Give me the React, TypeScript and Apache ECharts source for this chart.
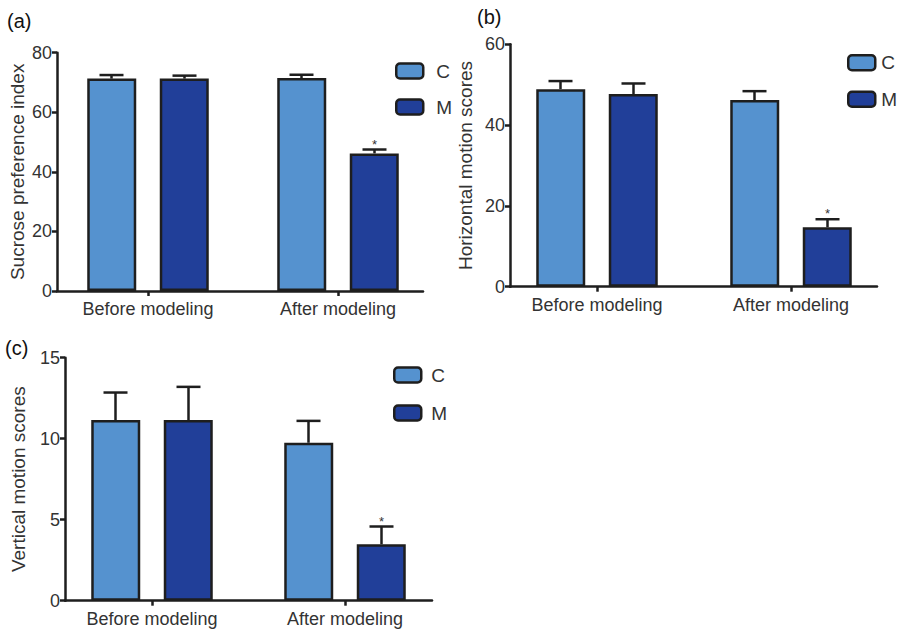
import React, { useEffect, useRef } from "react";
import * as echarts from "echarts";

const categories = ["Before modeling", "After modeling"];
const groups = ["C", "M"];

const sucroseC = [71.3, 71.5];
const sucroseCErr = [1.2, 1.1];
const sucroseM = [71.3, 46.2];
const sucroseMErr = [1.0, 1.3];

const horizC = [48.9, 46.2];
const horizCErr = [2.0, 2.2];
const horizM = [47.7, 14.7];
const horizMErr = [2.6, 2.0];

const vertC = [11.15, 9.75];
const vertCErr = [1.7, 1.35];
const vertM = [11.15, 3.48];
const vertMErr = [2.05, 1.1];

const sigM = ["", "*"];

const yTitles = ["Sucrose preference index", "Horizontal motion scores", "Vertical motion scores"];
const yMax = [80, 60, 15];
const yInterval = [20, 20, 5];
const panelLabels = ["(a)", "(b)", "(c)"];

const COLOR_C = "#5592cf";
const COLOR_M = "#213f99";
const INK = "#1e1e1e";
const TEXT = "#333333";
const FONT = "Liberation Sans, Arial, sans-serif";

export default function App() {
  const ref = useRef<HTMLDivElement>(null);

  useEffect(() => {
    if (!ref.current) return;
    const chart = echarts.init(ref.current, null, { renderer: "svg" });

    const panels = [
      { c: sucroseC, ce: sucroseCErr, m: sucroseM, me: sucroseMErr,
        axes: { left: 57, top: 52.7, width: 366, height: 238.3 },
        bars: { left: 53, width: 380 }, nameGap: 30,
        legend: { left: 395, top: 61.5, gap: 17, pad: 8 } },
      { c: horizC, ce: horizCErr, m: horizM, me: horizMErr,
        axes: { left: 510, top: 44.3, width: 367, height: 242.4 },
        bars: { left: 500, width: 388 }, nameGap: 35,
        legend: { left: 847, top: 53.2, gap: 17.6, pad: 1 } },
      { c: vertC, ce: vertCErr, m: vertM, me: vertMErr,
        axes: { left: 65, top: 357.7, width: 367, height: 243 },
        bars: { left: 55.5, width: 386 }, nameGap: 37,
        legend: { left: 393, top: 365.5, gap: 19, pad: 5 } },
    ];

    const BAR_W = 49;
    const HALF = 36.5;

    const grid: any[] = [];
    const xAxis: any[] = [];
    const yAxis: any[] = [];
    const series: any[] = [];
    const legend: any[] = [];

    const errorSeries = (gi: number, means: number[], errs: number[], dx: number, sig: string[]) => ({
      type: "custom",
      xAxisIndex: gi,
      yAxisIndex: gi,
      z: 1,
      silent: true,
      data: means.map((v, i) => [i, v, errs[i]]),
      renderItem: (params: any, api: any) => {
        const idx = api.value(0);
        const mean = api.value(1);
        const err = api.value(2);
        const p0 = api.coord([idx, mean]);
        const p1 = api.coord([idx, mean + err]);
        const x = p0[0] + dx;
        const children: any[] = [
          { type: "line", shape: { x1: x, y1: p0[1], x2: x, y2: p1[1] }, style: { stroke: INK, lineWidth: 2.5 } },
          { type: "line", shape: { x1: x - 12, y1: p1[1], x2: x + 12, y2: p1[1] }, style: { stroke: INK, lineWidth: 2.5 } },
        ];
        const s = sig[params.dataIndex];
        if (s) {
          children.push({
            type: "text",
            style: { text: s, x, y: p1[1] + 1, align: "center", verticalAlign: "bottom", fontSize: 13, fill: "#333", fontFamily: FONT },
          });
        }
        return { type: "group", children };
      },
    });

    panels.forEach((p, k) => {
      const ga = 2 * k;
      const gb = 2 * k + 1;
      grid.push({ left: p.axes.left, top: p.axes.top, width: p.axes.width, height: p.axes.height });
      grid.push({ left: p.bars.left, top: p.axes.top, width: p.bars.width, height: p.axes.height });

      xAxis.push({
        type: "category", gridIndex: ga, data: categories,
        axisLine: { show: true, lineStyle: { color: INK, width: 2.5 } },
        axisTick: { show: false }, axisLabel: { show: false }, splitLine: { show: false },
      });
      xAxis.push({
        type: "category", gridIndex: gb, data: categories,
        axisLine: { show: false },
        axisTick: { show: true, alignWithLabel: true, length: 5, lineStyle: { color: INK, width: 2.5 } },
        axisLabel: { show: true, color: TEXT, fontSize: 18, fontFamily: FONT, margin: 9 },
        splitLine: { show: false },
      });

      yAxis.push({
        type: "value", gridIndex: ga, min: 0, max: yMax[k], interval: yInterval[k],
        name: yTitles[k], nameLocation: "middle", nameGap: p.nameGap,
        nameTextStyle: { color: TEXT, fontSize: 19, fontFamily: FONT },
        axisLine: { show: true, lineStyle: { color: INK, width: 2.5 } },
        axisTick: { show: true, length: 5, lineStyle: { color: INK, width: 2.5 } },
        axisLabel: { color: TEXT, fontSize: 18, fontFamily: FONT, margin: 5 },
        splitLine: { show: false },
      });
      yAxis.push({
        type: "value", gridIndex: gb, min: 0, max: yMax[k], interval: yInterval[k],
        show: false, splitLine: { show: false },
      });

      series.push({
        type: "bar", name: "C", xAxisIndex: gb, yAxisIndex: gb, data: p.c,
        barWidth: BAR_W, barGap: "48%", z: 2,
        itemStyle: { color: COLOR_C, borderColor: INK, borderWidth: 2.5 },
      });
      series.push({
        type: "bar", name: "M", xAxisIndex: gb, yAxisIndex: gb, data: p.m,
        barWidth: BAR_W, barGap: "48%", z: 2,
        itemStyle: { color: COLOR_M, borderColor: INK, borderWidth: 2.5 },
      });
      series.push(errorSeries(gb, p.c, p.ce, -HALF, ["", ""]));
      series.push(errorSeries(gb, p.m, p.me, HALF, sigM));

      legend.push({
        orient: "vertical", left: p.legend.left, top: p.legend.top, padding: 0,
        itemWidth: 27, itemHeight: 15, itemGap: p.legend.gap,
        icon: "roundRect", selectedMode: false, data: groups,
        textStyle: { color: TEXT, fontSize: 19, fontFamily: FONT, padding: [0, 0, 0, p.legend.pad] },
        itemStyle: { borderColor: INK, borderWidth: 2.5 },
      });
    });

    chart.setOption({
      animation: false,
      backgroundColor: "#ffffff",
      grid, xAxis, yAxis, series, legend,
      graphic: [
        { type: "text", left: 7, top: 11, style: { text: panelLabels[0], fontSize: 20, fill: "#111", fontFamily: FONT } },
        { type: "text", left: 477, top: 7, style: { text: panelLabels[1], fontSize: 20, fill: "#111", fontFamily: FONT } },
        { type: "text", left: 5, top: 338, style: { text: panelLabels[2], fontSize: 20, fill: "#111", fontFamily: FONT } },
      ],
    });

    return () => chart.dispose();
  }, []);

  return <div ref={ref} style={{ position: "fixed", left: 0, top: 0, width: 904, height: 633 }} />;
}
